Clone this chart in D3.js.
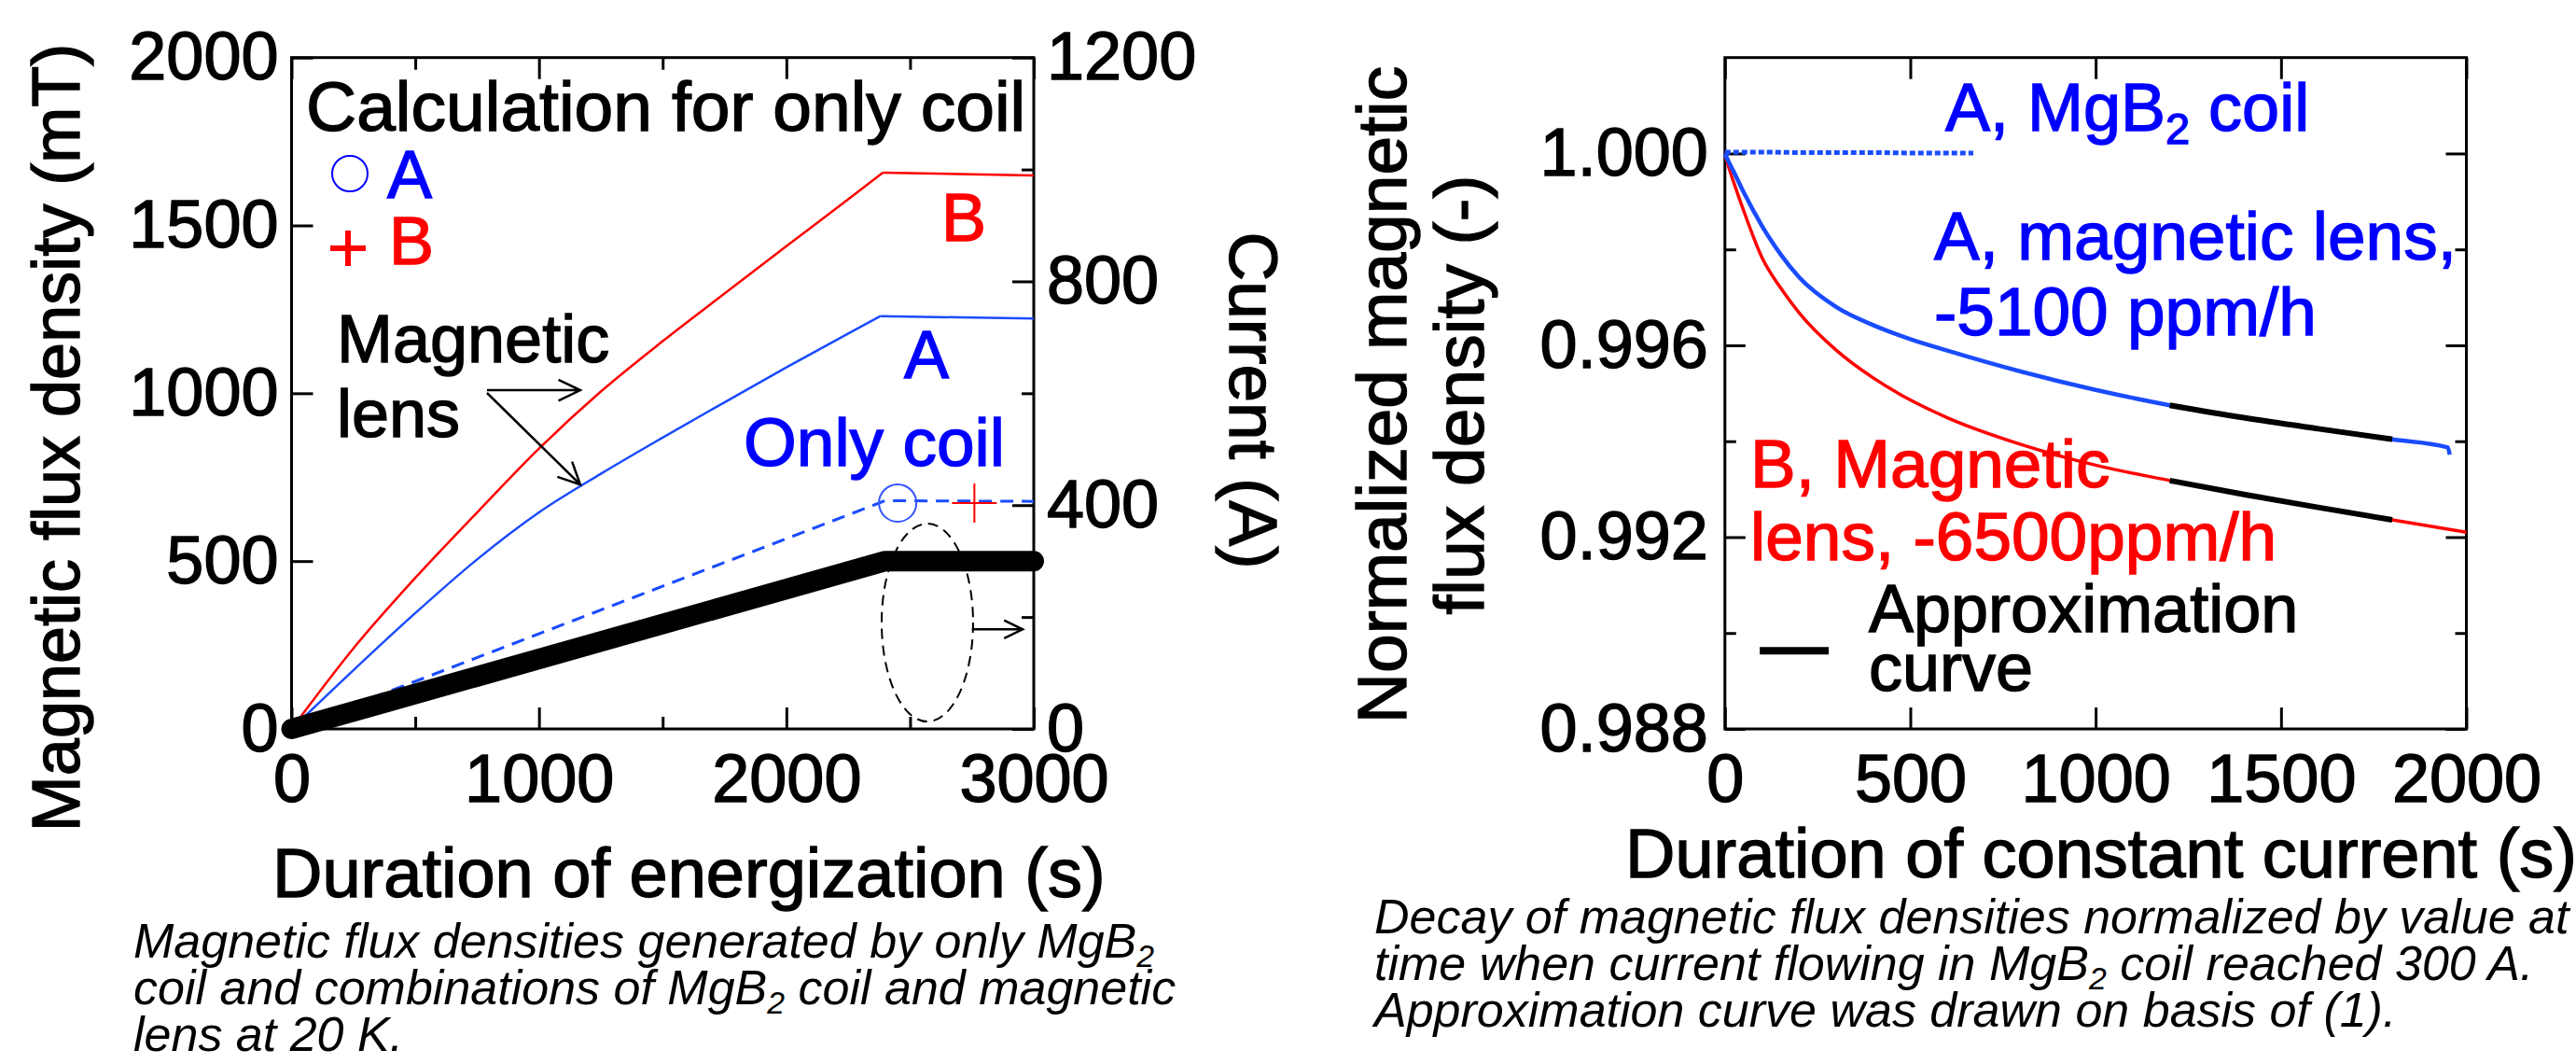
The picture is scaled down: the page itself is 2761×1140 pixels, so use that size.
<!DOCTYPE html>
<html lang="en">
<head>
    <title>Magnetic flux density of MgB2 coil and magnetic lens</title>
    <meta charset="utf-8">
    <script src="https://d3js.org/d3.v7.min.js"></script>
    <style>
        body { margin: 0; background: #fff; }
    </style>
</head>
<body>
<div id="visualization"></div>
<script>
    // ---- left panel: flux density and current vs duration of energization ----
    const timeLensB = [0, 250, 500, 750, 1000, 1250, 1500, 1750, 2000, 2250, 2390, 2700, 3000];
    const fluxLensB = [0, 240, 450, 645, 835, 1005, 1155, 1297, 1438, 1578, 1657, 1653, 1649];

    const timeLensA = [0, 250, 500, 750, 1000, 1250, 1500, 1750, 2000, 2250, 2380, 2700, 3000];
    const fluxLensA = [0, 175, 345, 505, 645, 760, 868, 973, 1077, 1178, 1230, 1226, 1223];

    // index where the ramp ends and the constant current part starts
    const rampEnd = 10;

    const timeCoilOnly = [0, 2400, 3000];
    const fluxCoilOnly = [0, 680, 678];

    const timeCurrent = [0, 2400, 3000];
    const currentA = [0, 300, 300];

    // calculated values for only coil (circle = A, plus = B)
    const calcTime = [2450, 2760];
    const calcFlux = [673, 673];

    const xTicksLeft = [0, 1000, 2000, 3000];
    const xMinorLeft = [500, 1500, 2500];
    const yTicksFlux = [0, 500, 1000, 1500, 2000];
    const yTicksCurrent = [0, 400, 800, 1200];
    const yMinorCurrent = [200, 600, 1000];

    // ---- right panel: normalized flux density vs duration of constant current ----
    const timeDecayB = [0, 10, 25, 50, 100, 150, 200, 300, 400, 500, 600, 800, 1000, 1200, 1400, 1600, 1800, 2000];
    const normB = [1.00000, 0.99972, 0.99937, 0.99882, 0.99783, 0.99720, 0.99668, 0.99590, 0.99532, 0.99486,
        0.99449, 0.99393, 0.99350, 0.99318, 0.99289, 0.99262, 0.99236, 0.99210];

    const timeDecayA = [0, 10, 25, 50, 100, 150, 200, 300, 400, 500, 600, 800, 1000, 1200, 1400, 1600, 1800, 1950, 1955];
    const normA = [1.00000, 0.99983, 0.99960, 0.99920, 0.99849, 0.99790, 0.99742, 0.99680, 0.99642, 0.99613,
        0.99589, 0.99545, 0.99507, 0.99475, 0.99449, 0.99426, 0.99404, 0.99387, 0.99372];

    const timeCoilA = [0, 100, 200, 300, 400, 500, 600, 670];
    const normCoilA = [1.00003, 1.00003, 1.00002, 1.00002, 1.00002, 1.00001, 1.00001, 1.00001];

    const timeApprox = [1200, 1400, 1600, 1800];
    const approxA = [0.99475, 0.99449, 0.99426, 0.99404];
    const approxB = [0.99318, 0.99289, 0.99262, 0.99236];

    const legendTime = [94, 280];
    const legendNorm = [0.98963, 0.98963];

    const xTicksRight = [0, 500, 1000, 1500, 2000];
    const yTicksNorm = [0.988, 0.992, 0.996, 1.000];
    const yMinorNorm = [0.990, 0.994, 0.998];

    const FONT = '"Liberation Sans", Arial, sans-serif';
    const BLUE_LINE = "#1a4cff";
    const BLUE_TEXT = "#0000ff";
    const RED = "#ff0000";
    const HEAVY = 1.4; // the figure's text is drawn a little heavier than plain Arial

    const svg = d3.select("#visualization")
        .append("svg")
        .attr("width", 2761)
        .attr("height", 1140)
        .style("font-family", FONT);

    /**
     * Call an axis, drop the domain line and style ticks
     */
    const styleAxis = (g, axis) => {
        g.call(axis);
        g.select(".domain").remove();
        g.attr("font-family", FONT).attr("font-size", 72);
        g.selectAll(".tick line").attr("stroke", "#000").attr("stroke-width", 3);
        g.selectAll(".tick text").attr("fill", "#000")
            .attr("stroke", "#000").attr("stroke-width", HEAVY);
    };

    const addText = (x, y, str, opts = {}) => {
        const color = opts.color || "#000";
        return svg.append("text")
            .attr("x", x)
            .attr("y", y)
            .attr("font-size", opts.size || 72)
            .attr("fill", color)
            .attr("stroke", opts.italic ? null : color)
            .attr("stroke-width", opts.italic ? null : HEAVY)
            .attr("font-style", opts.italic ? "italic" : null)
            .attr("text-anchor", opts.anchor || "start")
            .text(str);
    };

    // text with a subscript "2" after MgB
    const addMgB2 = (x, y, before, after, opts = {}) => {
        const t = addText(x, y, null, opts);
        t.append("tspan").text(before + "MgB");
        t.append("tspan").attr("font-size", "0.65em").attr("dy", "0.3em").text("2");
        t.append("tspan").attr("dy", "-0.195em").text(after);
        return t;
    };

    const arrow = (x0, y0, x1, y1, head, width) => {
        const a = Math.atan2(y1 - y0, x1 - x0);
        const s = 0.45;
        const p = d3.path();
        p.moveTo(x0, y0);
        p.lineTo(x1, y1);
        p.moveTo(x1 - head * Math.cos(a - s), y1 - head * Math.sin(a - s));
        p.lineTo(x1, y1);
        p.lineTo(x1 - head * Math.cos(a + s), y1 - head * Math.sin(a + s));
        svg.append("path").attr("d", p.toString())
            .attr("fill", "none").attr("stroke", "#000").attr("stroke-width", width || 2.5);
    };

    // ================= LEFT PANEL =================
    const L = {left: 312.5, right: 1108, top: 61.7, bottom: 781};

    const x1 = d3.scaleLinear().domain([0, 3000]).range([L.left, L.right]);
    const yFlux = d3.scaleLinear().domain([0, 2000]).range([L.bottom, L.top]);
    const yCur = d3.scaleLinear().domain([0, 1200]).range([L.bottom, L.top]);

    styleAxis(svg.append("g").attr("transform", `translate(0,${L.bottom})`),
        d3.axisBottom(x1).tickValues(xTicksLeft).tickSize(-23).tickPadding(27).tickFormat(d3.format("d")));
    styleAxis(svg.append("g").attr("transform", `translate(0,${L.bottom})`),
        d3.axisBottom(x1).tickValues(xMinorLeft).tickSize(-13).tickFormat(""));
    styleAxis(svg.append("g").attr("transform", `translate(0,${L.top})`),
        d3.axisTop(x1).tickValues(xTicksLeft).tickSize(-23).tickFormat(""));
    styleAxis(svg.append("g").attr("transform", `translate(0,${L.top})`),
        d3.axisTop(x1).tickValues(xMinorLeft).tickSize(-13).tickFormat(""));
    styleAxis(svg.append("g").attr("transform", `translate(${L.left},0)`),
        d3.axisLeft(yFlux).tickValues(yTicksFlux).tickSize(-23).tickPadding(14).tickFormat(d3.format("d")));
    styleAxis(svg.append("g").attr("transform", `translate(${L.right},0)`),
        d3.axisRight(yCur).tickValues(yTicksCurrent).tickSize(-23).tickPadding(14).tickFormat(d3.format("d")));
    styleAxis(svg.append("g").attr("transform", `translate(${L.right},0)`),
        d3.axisRight(yCur).tickValues(yMinorCurrent).tickSize(-13).tickFormat(""));

    svg.append("rect")
        .attr("x", L.left).attr("y", L.top)
        .attr("width", L.right - L.left).attr("height", L.bottom - L.top)
        .attr("fill", "none").attr("stroke", "#000").attr("stroke-width", 3);

    const lineFlux = d3.line().x(d => x1(d[0])).y(d => yFlux(d[1]));
    const lineFluxSmooth = d3.line().x(d => x1(d[0])).y(d => yFlux(d[1])).curve(d3.curveMonotoneX);
    const lineCur = d3.line().x(d => x1(d[0])).y(d => yCur(d[1]));

    // ramp drawn smooth, constant current part straight, so the corner stays sharp
    const drawLens = (times, flux, color) => {
        const pts = d3.zip(times, flux);
        svg.append("path").attr("d", lineFluxSmooth(pts.slice(0, rampEnd + 1)))
            .attr("fill", "none").attr("stroke", color).attr("stroke-width", 2.5);
        svg.append("path").attr("d", lineFlux(pts.slice(rampEnd)))
            .attr("fill", "none").attr("stroke", color).attr("stroke-width", 2.5);
    };
    drawLens(timeLensB, fluxLensB, RED);
    drawLens(timeLensA, fluxLensA, BLUE_LINE);

    svg.append("path").attr("d", lineFlux(d3.zip(timeCoilOnly, fluxCoilOnly)))
        .attr("fill", "none").attr("stroke", BLUE_LINE).attr("stroke-width", 3)
        .attr("stroke-dasharray", "14,9");
    svg.append("path").attr("d", lineCur(d3.zip(timeCurrent, currentA)))
        .attr("fill", "none").attr("stroke", "#000").attr("stroke-width", 22)
        .attr("stroke-linecap", "round").attr("stroke-linejoin", "round");

    // calculation markers
    svg.append("circle")
        .attr("cx", x1(calcTime[0])).attr("cy", yFlux(calcFlux[0])).attr("r", 20)
        .attr("fill", "none").attr("stroke", "#3355ff").attr("stroke-width", 2);
    const px = x1(calcTime[1]), py = yFlux(calcFlux[1]);
    svg.append("path")
        .attr("d", `M${px - 24},${py}H${px + 24}M${px},${py - 21}V${py + 21}`)
        .attr("stroke", RED).attr("stroke-width", 2);

    // legend for calculation
    addText(328, 140, "Calculation for only coil", {size: 75});
    svg.append("circle").attr("cx", 375).attr("cy", 186).attr("r", 19)
        .attr("fill", "none").attr("stroke", BLUE_TEXT).attr("stroke-width", 2);
    addText(415, 212, "A", {color: BLUE_TEXT});
    svg.append("path").attr("d", "M354,266H392M373,247V285")
        .attr("stroke", RED).attr("stroke-width", 6);
    addText(417, 283, "B", {color: RED});

    addText(1033, 258, "B", {color: RED, anchor: "middle"});
    addText(993, 405, "A", {color: BLUE_TEXT, anchor: "middle"});
    addText(797, 499, "Only coil", {color: BLUE_TEXT, size: 73});
    addText(361, 388, "Magnetic", {size: 72});
    addText(361, 468, "lens", {size: 72});

    arrow(x1(790), yFlux(1009), x1(1167), yFlux(1009), 26);
    arrow(x1(790), yFlux(1001), x1(1167), yFlux(728), 26);

    svg.append("ellipse")
        .attr("cx", x1(2570)).attr("cy", yCur(190))
        .attr("rx", 49).attr("ry", 106)
        .attr("fill", "none").attr("stroke", "#000").attr("stroke-width", 2)
        .attr("stroke-dasharray", "11,7");
    arrow(x1(2750), yCur(178), x1(2955), yCur(178), 22);

    svg.append("text")
        .attr("transform", "translate(85,469) rotate(-90)")
        .attr("text-anchor", "middle").attr("font-size", 72)
        .attr("stroke", "#000").attr("stroke-width", HEAVY)
        .text("Magnetic flux density (mT)");
    svg.append("text")
        .attr("transform", "translate(1318,429) rotate(90)")
        .attr("text-anchor", "middle").attr("font-size", 73)
        .attr("stroke", "#000").attr("stroke-width", HEAVY)
        .text("Current (A)");
    addText(292, 961, "Duration of energization (s)", {size: 74});

    addMgB2(143, 1026, "Magnetic flux densities generated by only ", "", {size: 52, italic: true});
    addMgB2(143, 1076, "coil and combinations of ", " coil and magnetic", {size: 52, italic: true});
    addText(143, 1126, "lens at 20 K.", {size: 52, italic: true});

    // ================= RIGHT PANEL =================
    const R = {left: 1848.8, right: 2643.5, top: 61.7, bottom: 781};

    const x2 = d3.scaleLinear().domain([0, 2000]).range([R.left, R.right]);
    const y2 = d3.scaleLinear().domain([0.988, 1.002]).range([R.bottom, R.top]);

    styleAxis(svg.append("g").attr("transform", `translate(0,${R.bottom})`),
        d3.axisBottom(x2).tickValues(xTicksRight).tickSize(-23).tickPadding(27).tickFormat(d3.format("d")));
    styleAxis(svg.append("g").attr("transform", `translate(0,${R.top})`),
        d3.axisTop(x2).tickValues(xTicksRight).tickSize(-23).tickFormat(""));
    styleAxis(svg.append("g").attr("transform", `translate(${R.left},0)`),
        d3.axisLeft(y2).tickValues(yTicksNorm).tickSize(-22).tickPadding(18).tickFormat(d3.format(".3f")));
    styleAxis(svg.append("g").attr("transform", `translate(${R.left},0)`),
        d3.axisLeft(y2).tickValues(yMinorNorm).tickSize(-12).tickFormat(""));
    styleAxis(svg.append("g").attr("transform", `translate(${R.right},0)`),
        d3.axisRight(y2).tickValues(yTicksNorm).tickSize(-22).tickFormat(""));
    styleAxis(svg.append("g").attr("transform", `translate(${R.right},0)`),
        d3.axisRight(y2).tickValues(yMinorNorm).tickSize(-12).tickFormat(""));

    svg.append("rect")
        .attr("x", R.left).attr("y", R.top)
        .attr("width", R.right - R.left).attr("height", R.bottom - R.top)
        .attr("fill", "none").attr("stroke", "#000").attr("stroke-width", 3);

    const lineNorm = d3.line().x(d => x2(d[0])).y(d => y2(d[1])).curve(d3.curveMonotoneX);

    svg.append("path").attr("d", lineNorm(d3.zip(timeDecayB, normB)))
        .attr("fill", "none").attr("stroke", RED).attr("stroke-width", 3.5);
    svg.append("path").attr("d", lineNorm(d3.zip(timeDecayA, normA)))
        .attr("fill", "none").attr("stroke", BLUE_LINE).attr("stroke-width", 4.5);
    svg.append("path").attr("d", lineNorm(d3.zip(timeCoilA, normCoilA)))
        .attr("fill", "none").attr("stroke", BLUE_LINE).attr("stroke-width", 5)
        .attr("stroke-dasharray", "6,3");
    svg.append("path").attr("d", lineNorm(d3.zip(timeApprox, approxA)))
        .attr("fill", "none").attr("stroke", "#000").attr("stroke-width", 6);
    svg.append("path").attr("d", lineNorm(d3.zip(timeApprox, approxB)))
        .attr("fill", "none").attr("stroke", "#000").attr("stroke-width", 6);
    svg.append("path").attr("d", d3.line().x(d => x2(d[0])).y(d => y2(d[1]))(d3.zip(legendTime, legendNorm)))
        .attr("fill", "none").attr("stroke", "#000").attr("stroke-width", 8);

    addMgB2(2085, 140, "A, ", " coil", {color: BLUE_TEXT, size: 72});
    addText(2073, 278, "A, magnetic lens,", {color: BLUE_TEXT, size: 73});
    addText(2073, 359, "-5100 ppm/h", {color: BLUE_TEXT, size: 73});
    addText(1876, 522, "B, Magnetic", {color: RED, size: 73});
    addText(1876, 600, "lens, -6500ppm/h", {color: RED, size: 73});
    addText(2003, 677, "Approximation", {size: 72});
    addText(2003, 740, "curve", {size: 72});

    const yl = svg.append("text")
        .attr("transform", "translate(0,423) rotate(-90)")
        .attr("text-anchor", "middle").attr("font-size", 75)
        .attr("stroke", "#000").attr("stroke-width", HEAVY);
    yl.append("tspan").attr("x", 0).attr("y", 1507).text("Normalized magnetic");
    yl.append("tspan").attr("x", 0).attr("y", 1590).text("flux density (-)");

    addText(1742, 940, "Duration of constant current (s)", {size: 74});

    addText(1473, 1000, "Decay of magnetic flux densities normalized by value at", {size: 52, italic: true});
    addMgB2(1473, 1050, "time when current flowing in ", " coil reached 300 A.", {size: 52, italic: true});
    addText(1473, 1100, "Approximation curve was drawn on basis of (1).", {size: 52, italic: true});
</script>
</body>
</html>
